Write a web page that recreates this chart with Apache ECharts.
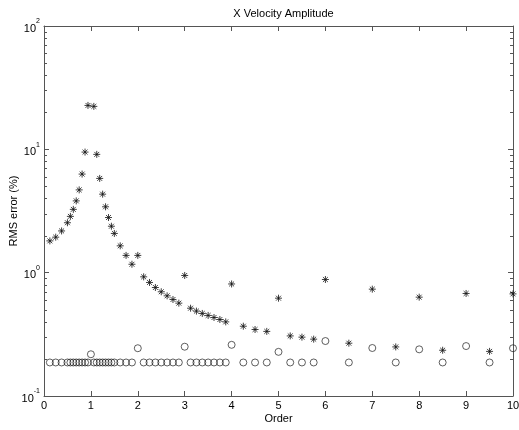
<!DOCTYPE html>
<html>
<head>
<meta charset="utf-8">
<script src="https://cdn.jsdelivr.net/npm/echarts@6/dist/echarts.min.js"></script>
<style>html,body{margin:0;padding:0;background:#fff;}#c{width:519px;height:430px;}</style>
</head>
<body>
<div id="c"></div>
<script>
const titleText = 'X Velocity Amplitude';
const xName = 'Order';
const yName = 'RMS error (%)';

const orders = [0.125,0.25,0.375,0.5,0.5625,0.625,0.6875,0.75,0.8125,0.875,0.9375,1.0625,1.125,1.1875,1.25,1.3125,1.375,1.4375,1.5,1.625,1.75,1.875,2,2.125,2.25,2.375,2.5,2.625,2.75,2.875,3,3.125,3.25,3.375,3.5,3.625,3.75,3.875,4,4.25,4.5,4.75,5,5.25,5.5,5.75,6,6.5,7,7.5,8,8.5,9,9.5,10];
const starValues = [1.81,1.94,2.18,2.54,2.86,3.26,3.82,4.69,6.3,9.5,22.7,22.3,9.1,5.81,4.33,3.42,2.80,2.38,2.08,1.65,1.38,1.17,1.38,0.925,0.833,0.758,0.70,0.649,0.606,0.566,0.949,0.515,0.488,0.467,0.45,0.433,0.417,0.399,0.81,0.368,0.346,0.334,0.621,0.307,0.30,0.289,0.88,0.268,0.735,0.25,0.633,0.235,0.678,0.23,0.673];
const circleValues = [0.187,0.187,0.187,0.187,0.187,0.187,0.187,0.187,0.187,0.187,0.187,0.187,0.187,0.187,0.187,0.187,0.187,0.187,0.187,0.187,0.187,0.187,0.244,0.187,0.187,0.187,0.187,0.187,0.187,0.187,0.251,0.187,0.187,0.187,0.187,0.187,0.187,0.187,0.26,0.187,0.187,0.187,0.228,0.187,0.187,0.187,0.279,0.187,0.245,0.187,0.239,0.187,0.254,0.187,0.244];
// order 1.0 circle
const extraCircleOrders = [1];
const extraCircleValues = [0.218];

const xTicks = [0,1,2,3,4,5,6,7,8,9,10];
const yDecades = [0.1,1,10,100];

const minorTicks = [];
for (let d = 0; d < 3; d++) { for (let k = 2; k <= 9; k++) minorTicks.push(k * yDecades[d]); }

const axisColor = '#555';
const font = 'Liberation Sans, Arial, Helvetica, sans-serif';

const starPath = 'path://M0,-10L0,10M-10,0L10,0M-7,-7L7,7M-7,7L7,-7';

const chart = echarts.init(document.getElementById('c'), null, {renderer: 'canvas'});
chart.setOption({
  animation: false,
  backgroundColor: '#fff',
  title: {
    text: titleText, left: 278.5, top: 3, textAlign: 'center',
    textStyle: {fontFamily: font, fontSize: 11, fontWeight: 'normal', color: '#000'}
  },
  grid: {left: 44, right: 6, top: 26, bottom: 34, containLabel: false, outerBoundsMode: 'none'},
  xAxis: [{
    type: 'value', min: 0, max: 10, interval: 1, position: 'bottom',
    name: xName, nameLocation: 'middle', nameGap: 17, nameMoveOverlap: false,
    nameTextStyle: {fontFamily: font, fontSize: 11, color: '#000'},
    axisLine: {show: true, lineStyle: {color: axisColor, width: 1}},
    axisTick: {show: true, inside: true, length: 5, lineStyle: {color: axisColor}},
    axisLabel: {fontFamily: font, fontSize: 11, color: '#000', margin: 4},
    splitLine: {show: false}
  }, {
    type: 'value', min: 0, max: 10, interval: 1, position: 'top',
    axisLine: {show: true, onZero: false, lineStyle: {color: axisColor, width: 1}},
    axisTick: {show: true, inside: true, length: 5, lineStyle: {color: axisColor}},
    axisLabel: {show: false}, splitLine: {show: false}
  }],
  yAxis: [{
    type: 'log', logBase: 10, min: 0.1, max: 100, position: 'left',
    name: yName, nameLocation: 'middle', nameGap: 25, nameMoveOverlap: false,
    nameTextStyle: {fontFamily: font, fontSize: 11, color: '#000'},
    axisLine: {show: true, lineStyle: {color: axisColor, width: 1}},
    axisTick: {show: true, inside: true, length: 5, lineStyle: {color: axisColor}},
    axisLabel: {
      margin: 4, color: '#000',
      formatter: function (v) { return '{b|10}{s|' + Math.round(Math.log10(v)) + '}'; },
      rich: {
        b: {fontFamily: font, fontSize: 11, color: '#000', lineHeight: 16, verticalAlign: 'bottom'},
        s: {fontFamily: font, fontSize: 7, color: '#000', lineHeight: 16, verticalAlign: 'top'}
      }
    },
    splitLine: {show: false}
  }, {
    type: 'log', logBase: 10, min: 0.1, max: 100, position: 'right',
    axisLine: {show: true, onZero: false, lineStyle: {color: axisColor, width: 1}},
    axisTick: {show: true, inside: true, length: 5, lineStyle: {color: axisColor}},
    axisLabel: {show: false}, splitLine: {show: false}
  }],
  series: [{
    type: 'custom', xAxisIndex: 0, yAxisIndex: 0, silent: true, clip: false,
    data: minorTicks.map(v => [0, v]),
    renderItem: function (params, api) {
      const l = api.coord([0, api.value(1)]);
      const r = api.coord([10, api.value(1)]);
      const y = Math.round(l[1]) + 0.5;
      return {type: 'group', children: [
        {type: 'line', shape: {x1: l[0], y1: y, x2: l[0] + 3, y2: y}, style: {stroke: axisColor, lineWidth: 1}},
        {type: 'line', shape: {x1: r[0], y1: y, x2: r[0] - 3, y2: y}, style: {stroke: axisColor, lineWidth: 1}}
      ]};
    }
  }, {
    type: 'scatter', xAxisIndex: 0, yAxisIndex: 0,
    data: orders.map((o, i) => [o, circleValues[i]]).concat(extraCircleOrders.map((o, i) => [o, extraCircleValues[i]])),
    symbol: 'circle', symbolSize: 7,
    itemStyle: {color: 'rgba(0,0,0,0)', borderColor: '#222', borderWidth: 0.9},
    silent: true
  }, {
    type: 'scatter', xAxisIndex: 0, yAxisIndex: 0,
    data: orders.map((o, i) => [o, starValues[i]]),
    symbol: starPath, symbolSize: 7,
    itemStyle: {color: 'rgba(0,0,0,0)', borderColor: '#111', borderWidth: 1},
    silent: true
  }]
});
</script>
</body>
</html>
